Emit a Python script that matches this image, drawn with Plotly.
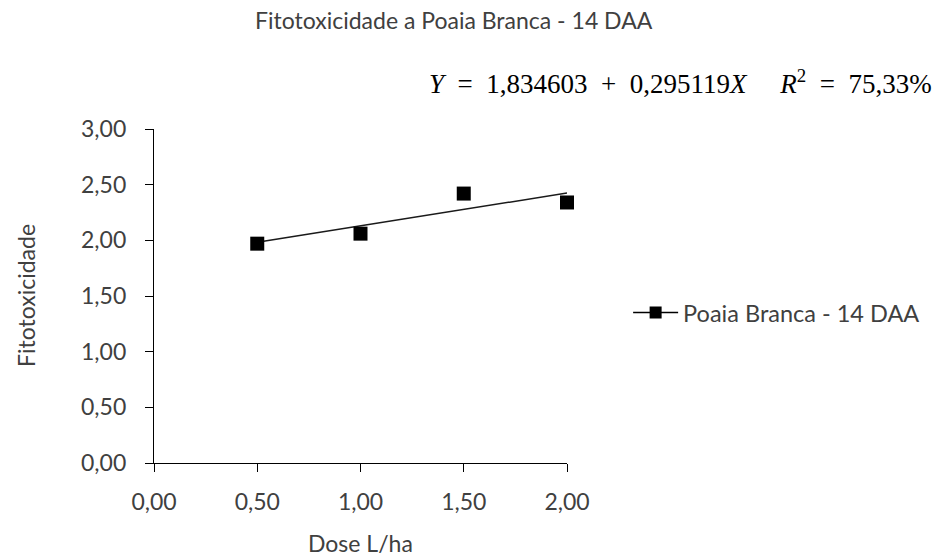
import plotly.graph_objects as go

dose = [0.5, 1.0, 1.5, 2.0]
fito = [1.97, 2.06, 2.42, 2.34]
intercept = 1.834603
slope = 0.295119
fit_x = [0.5, 2.0]
fit_y = [intercept + slope * v for v in fit_x]

title_text = "Fitotoxicidade a Poaia Branca - 14 DAA"
series_name = "Poaia Branca - 14 DAA"
x_title = "Dose L/ha"
y_title = "Fitotoxicidade"
S2 = " &nbsp;"
eq_text = ("<i>Y</i>" + S2 + "=" + S2 + "1,834603" + S2 + "+" + S2 + "0,295119<i>X</i>"
           + "&nbsp;&nbsp;&nbsp;&nbsp;&nbsp;" + "<i>R</i><sup>2</sup>" + S2 + "=" + S2 + "75,33%")

FONT = "Lato"
TXT = "#404040"
FS = 23

fig = go.Figure()
fig.add_trace(go.Scatter(x=fit_x, y=fit_y, mode="lines",
                         line=dict(color="#1a1a1a", width=1.5),
                         showlegend=False, hoverinfo="skip", cliponaxis=False))
fig.add_trace(go.Scatter(x=dose, y=fito, mode="markers",
                         marker=dict(symbol="square", size=14, color="black"),
                         showlegend=False, name=series_name, cliponaxis=False))
fig.add_trace(go.Scatter(x=[None], y=[None], mode="lines+markers", name=series_name,
                         marker=dict(symbol="square", size=12, color="black"),
                         line=dict(color="black", width=1.5)))

fig.update_layout(
    width=937, height=557,
    margin=dict(l=154, r=370, t=129, b=94, autoexpand=False),
    paper_bgcolor="white", plot_bgcolor="white",
    separators=",.",
    font=dict(family=FONT, size=FS, color=TXT),
    xaxis=dict(range=[0, 2.0], tickvals=[0, 0.5, 1.0, 1.5, 2.0], tickformat=".2f",
               showline=True, linecolor="black", linewidth=1.3,
               ticks="outside", ticklen=8, tickcolor="black",
               showgrid=False, zeroline=False, ticklabelstandoff=10,
               tickfont=dict(size=FS, color=TXT)),
    yaxis=dict(range=[0, 3.0], tickvals=[0, 0.5, 1.0, 1.5, 2.0, 2.5, 3.0], tickformat=".2f",
               showline=True, linecolor="black", linewidth=1.3,
               ticks="outside", ticklen=8, tickcolor="black",
               showgrid=False, zeroline=False, ticklabelstandoff=14,
               tickfont=dict(size=FS, color=TXT)),
    legend=dict(x=1.148, xanchor="left", y=0.45, yanchor="middle", itemwidth=45,
                font=dict(size=23.5, color=TXT), bgcolor="rgba(0,0,0,0)"),
    annotations=[
        dict(text=title_text, xref="paper", yref="paper", x=0.726, y=1.0,
             yshift=109, xanchor="center", yanchor="middle", showarrow=False,
             font=dict(size=FS, color=TXT, family=FONT)),
        dict(text=eq_text, xref="paper", yref="paper", x=1.0, y=1.0,
             xshift=367, yshift=47, xanchor="right", yanchor="middle", showarrow=False,
             font=dict(size=27, color="black", family="Liberation Serif")),
        dict(text=x_title, xref="paper", yref="paper", x=0.501, y=0.0,
             yshift=-80, xanchor="center", yanchor="middle", showarrow=False,
             font=dict(size=FS, color=TXT, family=FONT)),
        dict(text=y_title, xref="paper", yref="paper", x=0.0, y=0.5,
             xshift=-128, textangle=-90, xanchor="center", yanchor="middle", showarrow=False,
             font=dict(size=FS, color=TXT, family=FONT)),
    ],
)

fig.write_html("out.html")
